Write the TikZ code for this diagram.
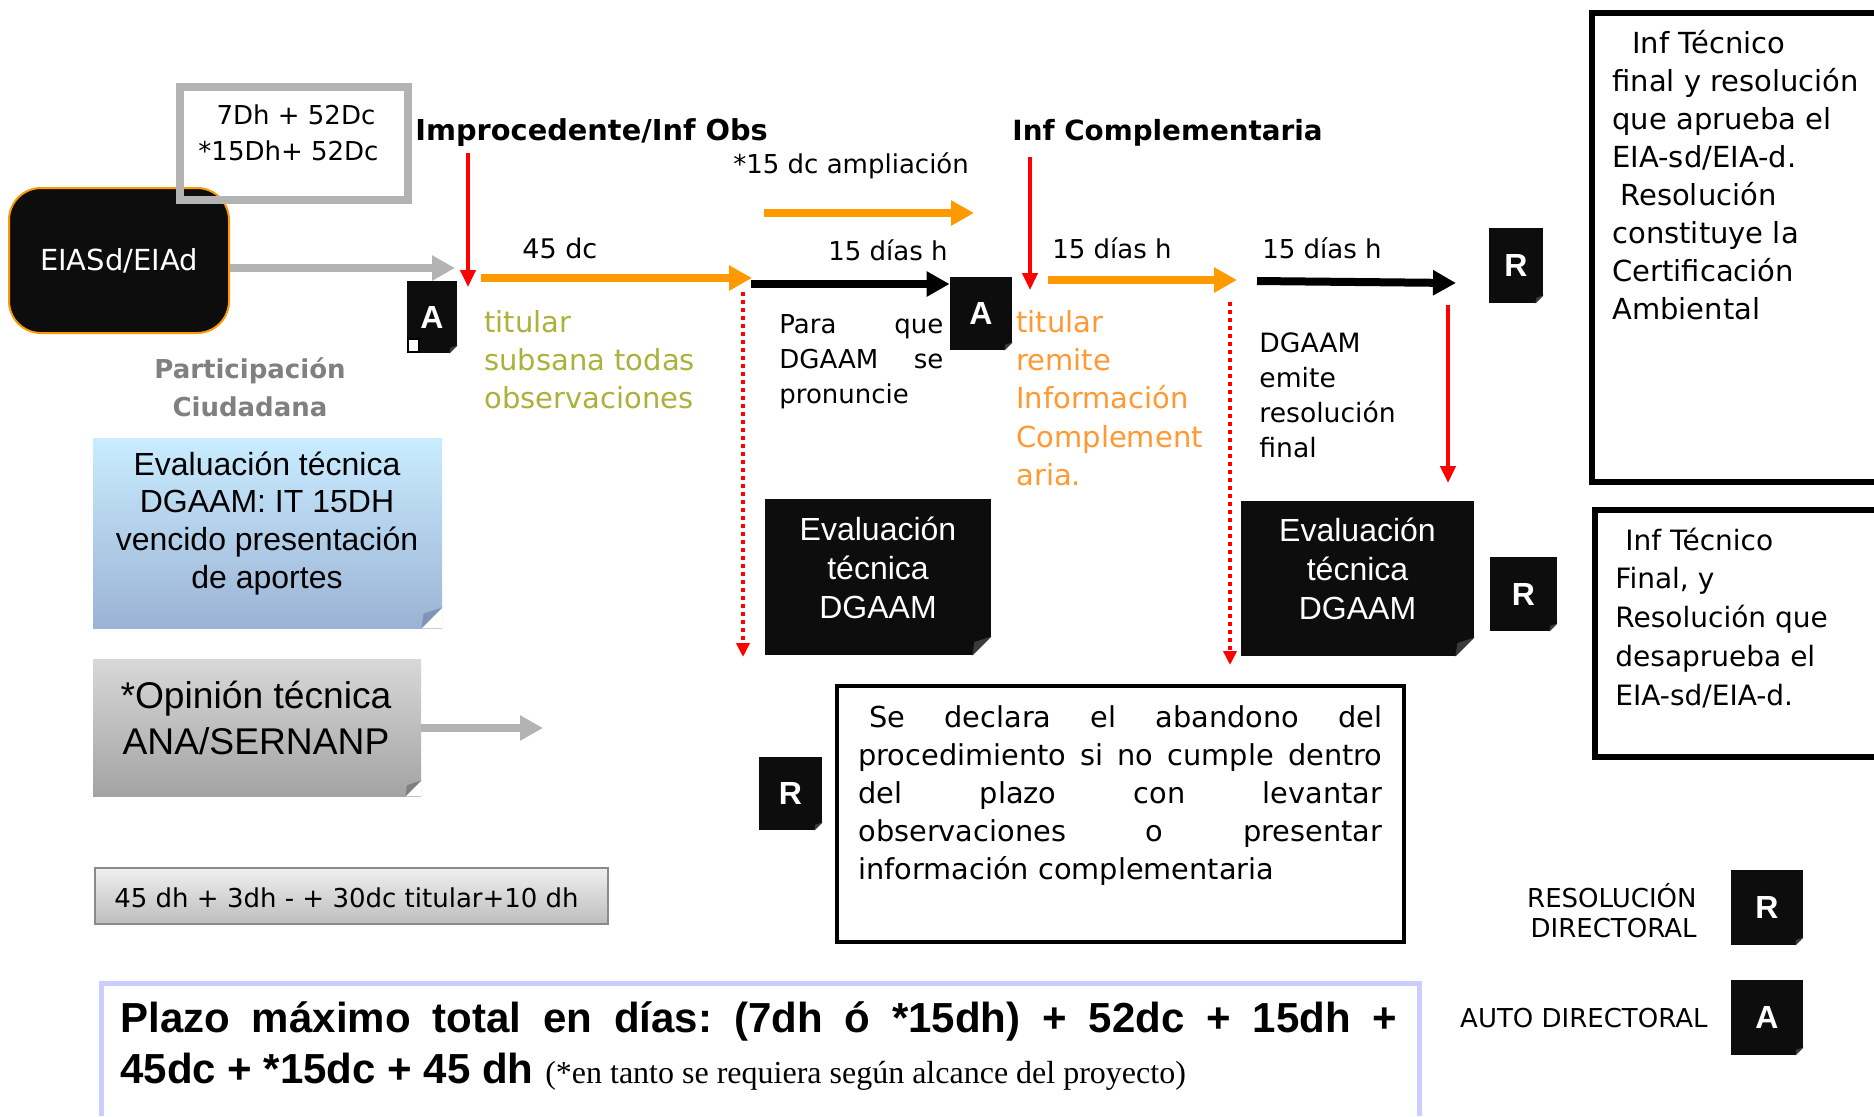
\documentclass[tikz,border=0pt]{standalone}
\usepackage{fontspec}
\setmainfont{DejaVu Sans}
\newfontfamily\comicf{DejaVu Sans}
\newfontfamily\arialf{Liberation Sans}
\newfontfamily\timesf{Liberation Serif}
\usetikzlibrary{arrows.meta,calc}
\frenchspacing
\definecolor{orA}{HTML}{FF9900}
\definecolor{olv}{HTML}{ABB23C}
\definecolor{orT}{HTML}{FF9933}
\definecolor{grA}{HTML}{B3B3B3}
\definecolor{grT}{HTML}{808080}
\definecolor{lav}{HTML}{CCCCFF}
\definecolor{blT}{HTML}{C9ECFF}
\definecolor{blB}{HTML}{9BB3D4}
\definecolor{blF}{HTML}{7E95B5}
\definecolor{gyT}{HTML}{D8D8D8}
\definecolor{gyB}{HTML}{A3A3A3}
\definecolor{gyF}{HTML}{808080}
\definecolor{gyL}{HTML}{EFEFEF}
\definecolor{gyD}{HTML}{BDBDBD}
\definecolor{gyE}{HTML}{8A8A8A}
\definecolor{rd}{HTML}{FF0000}
\definecolor{icoblack}{HTML}{0D0D0D}
\definecolor{fldk}{HTML}{3A3A3A}
\newcommand\fs[2]{\fontsize{#1}{#2}\selectfont}
\newcommand\lnsl[1]{\begin{tabular}[t]{@{}l@{}}#1\end{tabular}}
\newcommand\lnsc[1]{\begin{tabular}[t]{@{}c@{}}#1\end{tabular}}
\newcommand\lnsr[1]{\begin{tabular}[t]{@{}r@{}}#1\end{tabular}}
\newcommand\dogear[3]{%
  \fill[white] ($(#1.south east)+(-#2,0)$) -- (#1.south east) -- ($(#1.south east)+(0,-#2)$) -- cycle;
  \fill[#3] ($(#1.south east)+(-#2,0)$) -- ($(#1.south east)+(0,-#2)$) -- ($(#1.south east)+(-0.9*#2,-0.7*#2)$) -- cycle;
}
\tikzset{
  txt/.style={inner sep=0pt, anchor=base west},
  ctxt/.style={inner sep=0pt, anchor=base},
  rtxt/.style={inner sep=0pt, anchor=base east},
  icon/.style={fill=icoblack, inner sep=0pt, text=white, font=\arialf\bfseries\fs{16}{18}},
  evalbox/.style={fill=icoblack, inner sep=0pt},
  comicbody/.style={font=\comicf\fs{14.5}{19.2}},
  orarrow/.style={draw=orA, line width=4.3pt, -{Triangle[length=11.5pt,width=12pt]}},
  blarrow/.style={draw=black, line width=4pt, -{Triangle[length=11.5pt,width=12pt]}},
  grarrow/.style={draw=grA, line width=4pt, -{Triangle[length=11.5pt,width=12pt]}},
  rdarrow/.style={draw=rd, line width=2.1pt, -{Triangle[length=8.5pt,width=7.5pt]}},
  rddot/.style={draw=rd, line width=1.8pt, dash pattern=on 2pt off 2pt, -{Triangle[length=7pt,width=6.5pt]}},
}
\begin{document}
\begin{tikzpicture}[x=0.5pt,y=-0.5pt]
\useasboundingbox (0,0) rectangle (1874,1116);
\fill[white] (0,0) rectangle (1874,1116);

% ---- EIASd box and top-left time box
\node[fill=icoblack, draw=orA, line width=1pt, rounded corners=16pt, minimum width=110pt, minimum height=72.5pt, inner sep=0pt, text=white, font=\comicf\fs{14.5}{17}] (eia) at (119,260.5) {EIASd/EIAd};
\node[draw=grA, line width=4pt, minimum width=114pt, minimum height=56.5pt, inner sep=0pt] (plazo1) at (294,143.5) {};
\node[ctxt, font=\comicf\fs{13}{18}] (t7a) at (296,124) {7Dh + 52Dc};
\node[ctxt, font=\comicf\fs{13}{18}] (t7b) at (288.5,160) {*15Dh+ 52Dc};

% ---- headings
\node[txt, font=\comicf\bfseries\fs{14.4}{17}] (impr) at (415,140) {Improcedente/Inf Obs};
\node[txt, font=\comicf\bfseries\fs{13.9}{17}] (infc) at (1012,140) {Inf Complementaria};
\node[txt, font=\comicf\fs{13}{16}] (ampl) at (733,173) {*15 dc ampliación};

% ---- day labels
\node[txt, font=\comicf\fs{13.5}{16}] (d45) at (522,258) {45 dc};
\node[txt, font=\comicf\fs{13}{16}] (d15a) at (828,260) {15 días h};
\node[txt, font=\comicf\fs{13}{16}] (d15b) at (1052,258) {15 días h};
\node[txt, font=\comicf\fs{13}{16}] (d15c) at (1262,258) {15 días h};

% ---- coordinates for arrows
\coordinate (g1e) at (455,268);
\coordinate (r1s) at (468,153);
\coordinate (r1e) at (468,287);
\coordinate (o1s) at (481,278);
\coordinate (o1e) at (752,278);
\coordinate (o2s) at (764,213);
\coordinate (o2e) at (974,213);
\coordinate (b1s) at (751,284);
\coordinate (rd1s) at (743,292);
\coordinate (rd1e) at (743,657);
\coordinate (r2s) at (1030,157);
\coordinate (r2e) at (1030,290);
\coordinate (o3s) at (1048,280);
\coordinate (o3e) at (1237,280);
\coordinate (b2s) at (1257,281);
\coordinate (b2e) at (1456,283);
\coordinate (rd2s) at (1230,302);
\coordinate (rd2e) at (1230,665);
\coordinate (r3s) at (1448,305);
\coordinate (r3e) at (1448,483);
\coordinate (g2e) at (543,728);

% ---- icons
\node[icon, minimum width=25pt, minimum height=36pt] (A1) at (432,317) {A};
\node[icon, minimum width=31pt, minimum height=36.5pt] (A2) at (981,313.5) {A};
\node[icon, minimum width=27pt, minimum height=37.5pt] (R1) at (1516,265.5) {R};
\node[icon, minimum width=33.5pt, minimum height=37pt] (R2) at (1523.5,594) {R};
\node[icon, minimum width=31.5pt, minimum height=36.5pt] (R3) at (790.5,793.5) {R};
\node[icon, minimum width=36pt, minimum height=37.5pt] (RL) at (1767,907.5) {R};
\node[icon, minimum width=36pt, minimum height=37.5pt] (AL) at (1767,1017.5) {A};
\dogear{A1}{8}{fldk}
\dogear{A2}{8}{fldk}
\dogear{R1}{8}{fldk}
\dogear{R2}{8}{fldk}
\dogear{R3}{8}{fldk}
\dogear{RL}{8}{fldk}
\dogear{AL}{8}{fldk}
\draw[black, fill=white, line width=0.8pt] (408,339) rectangle (419,352);

% ---- arrows
\draw[grarrow] (eia.east |- g1e) -- (g1e);
\draw[rdarrow] (r1s) -- (r1e);
\draw[orarrow] (o1s) -- (o1e);
\draw[orarrow] (o2s) -- (o2e);
\draw[blarrow] (b1s) -- (A2.west |- b1s);
\draw[rddot] (rd1s) -- (rd1e);
\draw[rdarrow] (r2s) -- (r2e);
\draw[orarrow] (o3s) -- (o3e);
\draw[blarrow] (b2s) -- (b2e);
\draw[rddot] (rd2s) -- (rd2e);
\draw[rdarrow] (r3s) -- (r3e);

% ---- descriptive texts
\node[txt, comicbody, text=olv] (tit1) at (484,332) {\lnsl{titular\\subsana todas\\observaciones}};
\node[txt, font=\comicf\fs{13}{17.5}] (para) at (779,333) {\lnsl{\makebox[82pt][s]{Para que}\\\makebox[82pt][s]{DGAAM se}\\pronuncie}};
\node[txt, comicbody, text=orT] (tit2) at (1016,332) {\lnsl{titular\\remite\\Información\\Complement\\aria.}};
\node[txt, font=\comicf\fs{13.3}{17.5}] (emite) at (1259,352) {\lnsl{DGAAM\\emite\\resolución\\final}};
\node[ctxt, font=\comicf\bfseries\fs{13}{19}, text=grT] (part) at (250,378) {\lnsc{Participación\\Ciudadana}};

% ---- left boxes
\node[top color=blT, bottom color=blB, minimum width=174.5pt, minimum height=95pt, inner sep=0pt] (blue) at (267.5,533) {};
\dogear{blue}{21}{blF}
\node[ctxt, font=\arialf\fs{16}{18.85}] (bluet) at (267,475) {\lnsc{Evaluación técnica\\DGAAM: IT 15DH\\vencido presentación\\de aportes}};
\node[top color=gyT, bottom color=gyB, minimum width=164pt, minimum height=68.5pt, inner sep=0pt] (opin) at (257,727.5) {};
\dogear{opin}{16}{gyF}
\node[ctxt, font=\arialf\fs{18.6}{23}] (opint) at (256,708) {\lnsc{*Opinión técnica\\ANA/SERNANP}};
\draw[grarrow] (opin.east |- g2e) -- (g2e);
\node[top color=gyL, bottom color=gyD, draw=gyE, line width=1pt, minimum width=256.5pt, minimum height=28pt, inner sep=0pt] (sum45) at (351.5,896) {};
\node[txt, font=\comicf\fs{13}{16}] (sum45t) at (114,907) {45 dh + 3dh - + 30dc titular+10 dh};

% ---- evaluation boxes
\node[evalbox, minimum width=113pt, minimum height=78pt] (E1) at (878,577) {};
\dogear{E1}{19}{fldk}
\node[ctxt, text=white, font=\arialf\fs{16}{19.5}] (E1t) at (878,540) {\lnsc{Evaluación\\técnica\\DGAAM}};
\node[evalbox, minimum width=116.5pt, minimum height=77.5pt] (E2) at (1357.5,578.5) {};
\dogear{E2}{19}{fldk}
\node[ctxt, text=white, font=\arialf\fs{16}{19.5}] (E2t) at (1357.5,541) {\lnsc{Evaluación\\técnica\\DGAAM}};

% ---- abandonment box
\node[draw=black, line width=1.6pt, minimum width=283.5pt, minimum height=128pt, inner sep=0pt] (aband) at (1120.5,814) {};
\node[txt, font=\comicf\fs{14.4}{19.1}] (abandt) at (858,727) {\lnsl{\hspace*{5.5pt}\makebox[256.5pt][s]{Se declara el abandono del}\\\makebox[262pt][s]{procedimiento si no cumple dentro}\\\makebox[262pt][s]{del plazo con levantar}\\\makebox[262pt][s]{observaciones o presentar}\\información complementaria}};

% ---- right boxes
\draw[line width=3pt] (1874,13) -- (1592,13) -- (1592,482) -- (1874,482);
\node[txt, font=\comicf\fs{14.5}{19}] (fin1) at (1612,53) {\lnsl{\hspace*{10pt}Inf Técnico\\final y resolución\\que aprueba el\\EIA-sd/EIA-d.\\\hspace*{4pt}Resolución\\constituye la\\Certificación\\Ambiental}};
\draw[line width=3pt] (1874,510) -- (1595,510) -- (1595,757) -- (1874,757);
\node[txt, font=\comicf\fs{14}{19.4}] (fin2) at (1615,550) {\lnsl{\hspace*{5pt}Inf Técnico\\Final, y\\Resolución que\\desaprueba el\\EIA-sd/EIA-d.}};

% ---- legend
\node[rtxt, font=\comicf\fs{13}{15}] (legR) at (1697,907) {\lnsr{RESOLUCIÓN\\DIRECTORAL}};
\node[rtxt, font=\comicf\fs{13}{15}] (legA) at (1708,1027) {AUTO DIRECTORAL};

% ---- bottom total
\draw[lav, line width=2.5pt] (101,1116) -- (101,983.5) -- (1419,983.5) -- (1419,1116);
\node[txt, font=\arialf\bfseries\fs{21}{26}] (tot1) at (120,1032) {\makebox[638.5pt][s]{Plazo máximo total en días: (7dh ó *15dh) + 52dc + 15dh +}};
\node[txt, font=\arialf\bfseries\fs{21}{26}] (tot2) at (120,1083) {45dc + *15dc + 45 dh {\timesf\mdseries\fs{16}{20}(*en tanto se requiera según alcance del proyecto)}};
\end{tikzpicture}
\end{document}
